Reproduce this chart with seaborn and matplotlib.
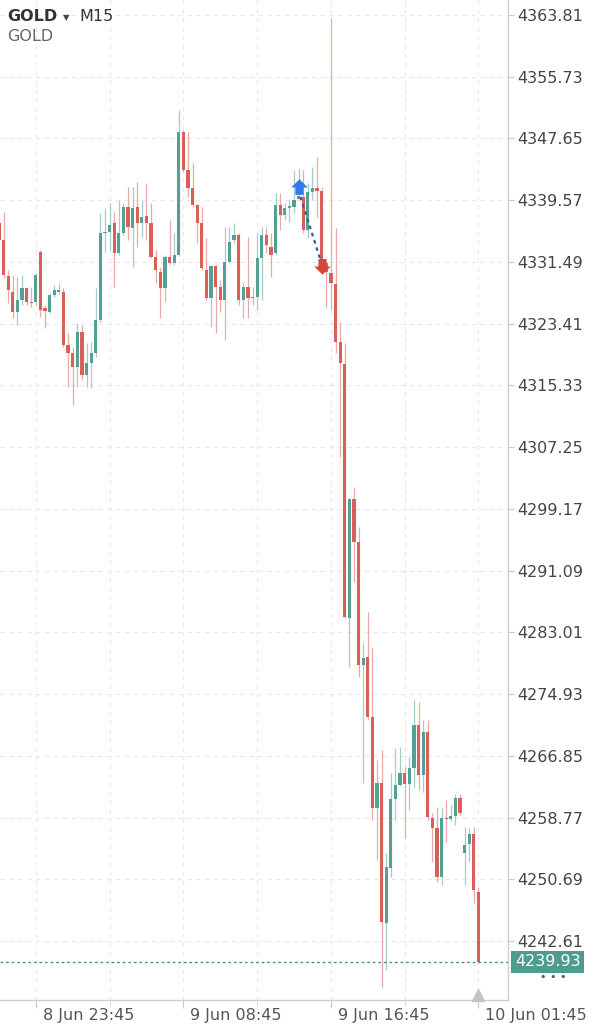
import numpy as np
import pandas as pd
import matplotlib
matplotlib.use('Agg')
import matplotlib.pyplot as plt
import seaborn as sns
from matplotlib.path import Path
from matplotlib import transforms

# GOLD M15 candles
opens = [
    4336.6, 4334.4, 4329.7, 4327.6, 4324.9, 4326.5, 4328.1, 4326.3, 4326.3, 4332.8,
    4325.5, 4324.9, 4327.2, 4327.6, 4327.6, 4320.6, 4319.6, 4317.7, 4322.3, 4316.7,
    4318.3, 4319.6, 4323.9, 4335.3, 4335.4, 4336.6, 4332.7, 4335.3, 4338.7, 4335.9,
    4338.7, 4336.6, 4337.5, 4336.6, 4332.1, 4330.2, 4328.1, 4332.1, 4331.4, 4332.4,
    4348.5, 4343.5, 4341.2, 4339.0, 4336.6, 4330.4, 4326.8, 4331.0, 4328.2, 4326.5,
    4331.5, 4334.4, 4335.0, 4326.5, 4328.2, 4326.8, 4326.9, 4332.0, 4335.0, 4333.4,
    4332.7, 4339.0, 4337.6, 4338.6, 4338.7, 4339.7, 4340.0, 4335.7, 4340.6, 4341.2,
    4340.8, 4331.4, 4330.0, 4328.6, 4321.0, 4318.1, 4284.9, 4300.5, 4294.8, 4278.7,
    4279.8, 4271.9, 4260.0, 4263.3, 4245.0, 4252.2, 4261.2, 4263.0, 4264.6, 4263.2,
    4265.3, 4270.9, 4264.3, 4270.0, 4258.7, 4257.4, 4251.0, 4258.7, 4258.6, 4259.0,
    4261.4, 4254.1, 4255.3, 4256.6, 4249.0]
highs = [
    4337.6, 4338.0, 4330.4, 4329.8, 4329.5, 4329.8, 4328.2, 4328.2, 4330.0, 4333.0,
    4325.9, 4327.4, 4328.5, 4328.7, 4328.1, 4322.2, 4320.4, 4323.5, 4323.2, 4320.9,
    4321.0, 4328.1, 4337.9, 4338.6, 4339.2, 4338.0, 4339.6, 4339.2, 4341.3, 4341.3,
    4341.9, 4339.6, 4341.8, 4339.2, 4333.1, 4330.8, 4332.4, 4337.0, 4335.3, 4351.4,
    4348.7, 4348.5, 4344.4, 4339.1, 4338.7, 4334.6, 4331.1, 4331.1, 4329.1, 4336.1,
    4336.1, 4336.6, 4335.3, 4328.9, 4334.8, 4328.2, 4335.3, 4336.1, 4336.1, 4335.3,
    4340.5, 4340.5, 4339.2, 4339.6, 4343.5, 4343.8, 4343.5, 4341.8, 4343.9, 4345.2,
    4341.3, 4331.5, 4363.4, 4335.9, 4323.6, 4320.9, 4300.6, 4302.0, 4296.8, 4281.6,
    4285.7, 4281.0, 4266.3, 4267.6, 4254.1, 4264.6, 4267.9, 4268.0, 4265.4, 4266.7,
    4274.2, 4273.9, 4271.5, 4271.5, 4259.4, 4260.1, 4260.0, 4261.1, 4260.4, 4261.8,
    4261.8, 4257.5, 4257.4, 4257.5, 4249.7]
lows = [
    4334.1, 4329.4, 4326.1, 4324.2, 4323.2, 4325.9, 4325.9, 4325.6, 4325.9, 4324.3,
    4322.8, 4324.8, 4326.9, 4327.3, 4320.4, 4315.1, 4312.8, 4315.1, 4316.0, 4315.1,
    4315.0, 4319.1, 4323.6, 4332.8, 4333.1, 4328.2, 4332.4, 4335.0, 4334.4, 4330.8,
    4333.4, 4334.8, 4334.4, 4332.0, 4328.7, 4324.2, 4326.3, 4331.2, 4331.1, 4332.3,
    4343.3, 4340.0, 4338.7, 4334.0, 4330.4, 4326.5, 4323.0, 4322.2, 4324.9, 4321.3,
    4331.4, 4334.0, 4325.9, 4324.2, 4324.2, 4325.9, 4325.2, 4326.5, 4332.7, 4329.5,
    4332.4, 4335.7, 4337.0, 4336.7, 4337.9, 4339.6, 4335.3, 4334.6, 4339.6, 4337.4,
    4330.8, 4325.6, 4325.2, 4319.6, 4306.0, 4284.9, 4278.5, 4289.6, 4277.2, 4263.3,
    4271.5, 4258.4, 4253.2, 4236.6, 4238.8, 4251.0, 4258.4, 4262.9, 4256.1, 4259.8,
    4262.7, 4262.4, 4262.1, 4258.4, 4252.9, 4250.3, 4249.9, 4255.6, 4258.3, 4257.8,
    4259.1, 4249.9, 4252.9, 4247.6, 4239.93]
closes = [
    4334.4, 4329.8, 4327.8, 4325.0, 4326.5, 4328.1, 4326.3, 4326.1, 4329.8, 4325.2,
    4325.1, 4327.2, 4327.8, 4327.8, 4320.6, 4319.6, 4317.7, 4322.3, 4316.7, 4318.3,
    4319.6, 4323.9, 4335.3, 4335.4, 4336.3, 4332.7, 4335.3, 4338.7, 4336.0, 4338.6,
    4336.6, 4337.4, 4336.6, 4332.1, 4330.4, 4328.1, 4332.1, 4331.4, 4332.4, 4348.5,
    4343.5, 4341.2, 4339.0, 4336.6, 4330.7, 4326.8, 4331.0, 4328.2, 4326.5, 4331.5,
    4334.1, 4335.0, 4326.5, 4328.2, 4326.8, 4326.9, 4332.0, 4335.0, 4333.7, 4332.4,
    4339.0, 4337.6, 4338.6, 4338.8, 4339.6, 4340.1, 4335.7, 4340.6, 4341.2, 4340.8,
    4331.4, 4330.2, 4328.7, 4321.0, 4318.3, 4285.0, 4300.5, 4294.8, 4278.7, 4279.6,
    4271.9, 4260.0, 4263.3, 4245.1, 4252.3, 4261.2, 4263.0, 4264.6, 4263.2, 4265.3,
    4270.9, 4264.3, 4270.0, 4258.8, 4257.4, 4251.0, 4258.7, 4258.6, 4259.0, 4261.3,
    4259.4, 4255.2, 4256.6, 4249.3, 4239.93]

price_ticks = [4363.81, 4355.73, 4347.65, 4339.57, 4331.49, 4323.41, 4315.33, 4307.25,
               4299.17, 4291.09, 4283.01, 4274.93, 4266.85, 4258.77, 4250.69, 4242.61]
time_ticks = ['2025-06-08 23:45', '2025-06-09 08:45', '2025-06-09 16:45', '2025-06-10 01:45']
last_price = 4239.93

# trade markers (buy / sell arrows)
buy_time, buy_price = '2025-06-09 15:00', 4341.3
sell_time, sell_price = '2025-06-09 16:15', 4330.95
trade_line = [4340.0, 4331.8]

# 15 min bars, the hour after midnight is the daily break
times = pd.date_range('2025-06-08 21:45', '2025-06-10 01:45', freq='15min')
times = times[times.hour != 0]

df = pd.DataFrame({'time': times, 'open': opens, 'high': highs,
                   'low': lows, 'close': closes})
df['x'] = np.arange(len(df))
df['up'] = df['close'] >= df['open']

bull, bear = '#55a095', '#d95f58'
bull_wick, bear_wick = '#a3cdc6', '#e8aaa6'

sns.set_theme(style='white')
plt.rcParams['font.family'] = ['DejaVu Sans']

fig = plt.figure(figsize=(5.99, 10.24), dpi=100)
ax = fig.add_axes([0, 24 / 1024, 508 / 599, 1000 / 1024])

# wicks + bodies
ax.vlines(df['x'], df['low'], df['high'],
          colors=np.where(df['up'], bull_wick, bear_wick), lw=0.9, zorder=2)
body_lo = np.minimum(df['open'], df['close'])
body_h = np.maximum(np.abs(df['close'] - df['open']), 0.15)
ax.bar(df['x'], body_h, bottom=body_lo, width=0.7,
       color=np.where(df['up'], bull, bear), linewidth=0, zorder=3)

# buy -> sell trade
bi = times.get_loc(pd.Timestamp(buy_time))
si = times.get_loc(pd.Timestamp(sell_time))
ax.plot([bi + 0.4, si - 0.3], trade_line, color='#3f5c9a', lw=1.6,
        linestyle=(0, (1.6, 1.8)), zorder=4)
up_arrow = Path([(0, 1), (1, 0), (0.5, 0), (0.5, -0.9), (-0.5, -0.9), (-0.5, 0), (-1, 0), (0, 1)])
down_arrow = Path([(x, -y) for x, y in up_arrow.vertices])
sns.scatterplot(x=[bi], y=[buy_price], marker=up_arrow, s=140, color='#2f7bf0',
                linewidth=0, ax=ax, zorder=5)
sns.scatterplot(x=[si], y=[sell_price], marker=down_arrow, s=140, color='#d8453a',
                linewidth=0, ax=ax, zorder=5)

# last price line
ax.axhline(last_price, color='#4e8f88', lw=1, linestyle=(0, (2, 2)), zorder=4)

n = len(df)
ax.set_xlim(0.24, 110.4)
ax.set_ylim(4234.9, 4365.77)

major = [times.get_loc(pd.Timestamp(t)) for t in time_ticks]
ax.set_xticks(major)
ax.set_xticks(np.arange(major[0] + 16, n, 32), minor=True)
ax.set_yticks(price_ticks)
ax.set_yticklabels([f'{p:.2f}' for p in price_ticks])
ax.yaxis.tick_right()
ax.tick_params(axis='y', which='both', right=True, left=False, length=4, width=0.8,
               color='#c8c8c8', labelsize=11.5, labelcolor='#444444', pad=3)
ax.tick_params(axis='x', which='major', bottom=True, length=6, width=0.8,
               color='#c8c8c8', labelbottom=False)
ax.tick_params(axis='x', which='minor', bottom=True, length=4, width=0.8,
               color='#dddddd', labelbottom=False)

ax.grid(True, which='both', color='#e8e8e8', linestyle=(0, (4, 4)), lw=0.8)
ax.set_axisbelow(True)
for s in ['top', 'left']:
    ax.spines[s].set_visible(False)
for s in ['right', 'bottom']:
    ax.spines[s].set_color('#cfcfcf')
    ax.spines[s].set_linewidth(1)

for i in major:
    t = times[i]
    ax.annotate(f"{t.day} {t.strftime('%b %H:%M')}", xy=(i, 0),
                xycoords=('data', 'axes fraction'), xytext=(5, -11),
                textcoords='offset points', ha='left', va='center',
                fontsize=11.5, color='#555555', annotation_clip=False)

# current bar marker on the time axis
ax.plot([n - 1], [0.005], marker='^', markersize=8, color='#c4c4c4',
        transform=transforms.blended_transform_factory(ax.transData, ax.transAxes),
        clip_on=False, zorder=6)

# price label box on the right
tr = transforms.blended_transform_factory(fig.transFigure, ax.transData)
ax.text(515 / 599, last_price, f'{last_price:.2f}', transform=tr, ha='left',
        va='center', fontsize=11.5, color='white', clip_on=False,
        bbox=dict(boxstyle='square,pad=0.22', fc='#4f9b90', ec='none'))
fig.text(553 / 599, 1 - 977 / 1024, '• • •', ha='center', va='center',
         fontsize=8, color='#555555')

# header
fig.text(7 / 599, 1 - 21 / 1024, 'GOLD', fontsize=11.5, fontweight='bold',
         color='#333333', va='baseline')
fig.text(63 / 599, 1 - 20 / 1024, '▼', fontsize=6, color='#444444', va='baseline')
fig.text(79 / 599, 1 - 21 / 1024, 'M15', fontsize=11.5, color='#333333', va='baseline')
fig.text(7 / 599, 1 - 41 / 1024, 'GOLD', fontsize=11.5, color='#666666', va='baseline')

fig.savefig('out.png', dpi=100)
